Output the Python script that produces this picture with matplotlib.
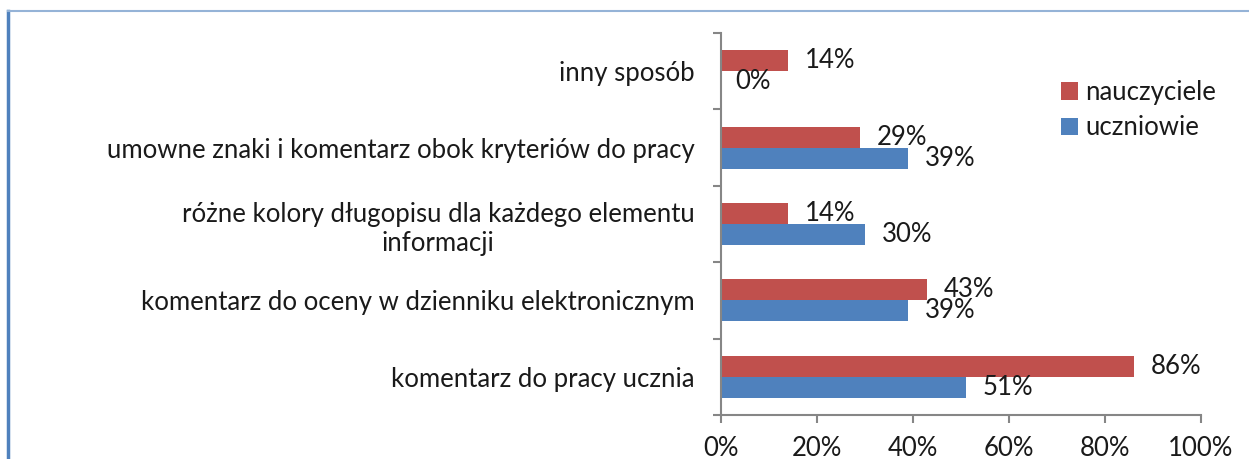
import matplotlib.pyplot as plt
from matplotlib.lines import Line2D
from matplotlib.ticker import FixedLocator

plt.rcParams['font.family'] = ['Lato', 'DejaVu Sans']

# categories from bottom to top
categories = [
    'komentarz do pracy ucznia',
    'komentarz do oceny w dzienniku elektronicznym',
    'różne kolory długopisu dla każdego elementu\ninformacji',
    'umowne znaki i komentarz obok kryteriów do pracy',
    'inny sposób',
]
nauczyciele = [86, 43, 14, 29, 14]
uczniowie = [51, 39, 30, 39, 0]
x_ticks = [0, 20, 40, 60, 80, 100]

red = '#C0504D'
blue = '#4F81BD'
txt = '#1a1a1a'
axis_col = '#868686'
fs = 18.5

fig = plt.figure(figsize=(12.49, 4.59), dpi=100)
ax = fig.add_axes([721 / 1249, 1 - 415 / 459, 480 / 1249, 382 / 459])

h = 0.276
ys = list(range(len(categories)))
ax.barh([y + h / 2 for y in ys], nauczyciele, height=h, color=red, label='nauczyciele')
ax.barh([y - h / 2 for y in ys], uczniowie, height=h, color=blue, label='uczniowie')

for y, v in zip(ys, nauczyciele):
    ax.annotate(f'{v}%', (v, y + h / 2), xytext=(12, 0), textcoords='offset points',
                va='center', ha='left', fontsize=fs, color=txt)
for y, v in zip(ys, uczniowie):
    ax.annotate(f'{v}%', (v, y - h / 2), xytext=(10 if v == 0 else 12, 0),
                textcoords='offset points', va='center', ha='left', fontsize=fs, color=txt)

ax.set_xlim(0, 100)
ax.set_ylim(-0.5, len(categories) - 0.5)
ax.set_xticks(x_ticks)
ax.set_xticklabels([f'{t}%' for t in x_ticks], fontsize=fs, color=txt)

ax.yaxis.set_major_locator(FixedLocator([y - 0.5 for y in range(len(categories) + 1)]))
ax.yaxis.set_major_formatter(plt.NullFormatter())
ax.yaxis.set_minor_locator(FixedLocator(ys))
ax.set_yticklabels(categories, minor=True, fontsize=fs, color=txt, multialignment='center')
ax.tick_params(axis='y', which='minor', length=0, pad=19)
ax.tick_params(axis='y', which='major', length=6, width=1.5, color=axis_col)
ax.tick_params(axis='x', length=6, width=1.5, color=axis_col, pad=9)

for s in ['top', 'right']:
    ax.spines[s].set_visible(False)
for s in ['left', 'bottom']:
    ax.spines[s].set_color(axis_col)
    ax.spines[s].set_linewidth(1.5)

ax.legend(loc='upper left', bbox_to_anchor=(1061 / 1249, 1 - 80 / 459), bbox_transform=fig.transFigure,
          frameon=False, fontsize=fs, handlelength=0.65, handleheight=0.65, handletextpad=0.3,
          labelspacing=0.4, labelcolor=txt, borderaxespad=0, borderpad=0)

# frame lines of the original chart box
fig.add_artist(Line2D([8 / 1249, 8 / 1249], [0, 1 - 11 / 459], color='#4F81BD', lw=2.5))
fig.add_artist(Line2D([8 / 1249, 1], [1 - 11 / 459, 1 - 11 / 459], color='#95B3D7', lw=1.5))

fig.savefig('out.png', dpi=100)
